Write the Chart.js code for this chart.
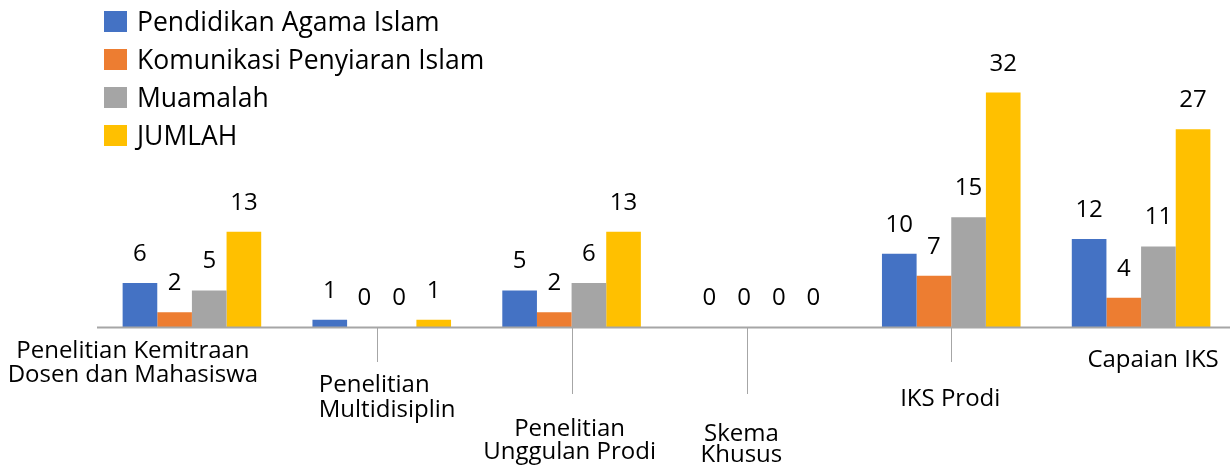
<!DOCTYPE html>
<html lang="id">
<head>
    <meta charset="UTF-8">
    <title>Penelitian per Prodi</title>
    <script src="https://cdn.jsdelivr.net/npm/chart.js"></script>
    <style>
        body { margin: 0; overflow: hidden; background: #ffffff; }
        .chart-container { position: relative; width: 1240px; height: 466px; }
    </style>
</head>
<body>
    <div class="chart-container">
        <canvas id="chartPenelitian"></canvas>
    </div>

    <script>
        // --- Data ---
        const categories = [
            ['Penelitian Kemitraan', 'Dosen dan Mahasiswa'],
            ['Penelitian', 'Multidisiplin'],
            ['Penelitian', 'Unggulan Prodi'],
            ['Skema', 'Khusus'],
            ['IKS Prodi'],
            ['Capaian IKS']
        ];
        const seriesNames = ['Pendidikan Agama Islam', 'Komunikasi Penyiaran Islam', 'Muamalah', 'JUMLAH'];
        const pendidikanAgamaIslam = [6, 1, 5, 0, 10, 12];
        const komunikasiPenyiaranIslam = [2, 0, 2, 0, 7, 4];
        const muamalah = [5, 0, 6, 0, 15, 11];
        const jumlah = [13, 1, 13, 0, 32, 27];

        const colors = ['#4472C4', '#ED7D31', '#A5A5A5', '#FFC000'];
        const FONT = "'Open Sans', 'Noto Sans', sans-serif";

        // Beschriftungs-Layout der x-Achse (versetzt wie im Original, mit Führungslinien)
        const labelDx = [-59, -63, -2, -20, -1, 12];
        const labelAlign = ['center', 'left', 'center', 'center', 'center', 'center'];
        const labelBaseline = [31, 65, 109, 114, 79, 40];   // relativ zur Achse
        const labelLineGap = [24, 25, 23, 21, 0, 0];
        const leaderDx = [null, -5, 0, -14, 0, null];
        const leaderLen = [0, 35, 67, 67, 35, 0];

        // Eigene Beschriftung: Werte, Legende, Achse
        const customDraw = {
            id: 'customDraw',
            afterDatasetsDraw(chart) {
                const ctx = chart.ctx;
                const area = chart.chartArea;
                const xScale = chart.scales.x;
                const axisY = area.bottom;

                ctx.save();
                // Achsenlinie
                ctx.strokeStyle = '#A6A6A6';
                ctx.lineWidth = 2;
                ctx.beginPath();
                ctx.moveTo(area.left, axisY + 0.5);
                ctx.lineTo(area.right, axisY + 0.5);
                ctx.stroke();

                // Datenbeschriftungen
                ctx.fillStyle = '#000000';
                ctx.font = '24px ' + FONT;
                ctx.textAlign = 'center';
                ctx.textBaseline = 'alphabetic';
                chart.data.datasets.forEach((ds, di) => {
                    const meta = chart.getDatasetMeta(di);
                    meta.data.forEach((bar, i) => {
                        ctx.fillText(String(ds.data[i]), bar.x, bar.y - 22);
                    });
                });

                // x-Achse: Kategorien
                ctx.font = '24px ' + FONT;
                categories.forEach((lines, i) => {
                    const cx = xScale.getPixelForValue(i);
                    if (leaderDx[i] !== null && leaderLen[i] > 0) {
                        ctx.strokeStyle = '#A6A6A6';
                        ctx.lineWidth = 1;
                        const lx = Math.round(cx + leaderDx[i]) + 0.5;
                        ctx.beginPath();
                        ctx.moveTo(lx, axisY + 1);
                        ctx.lineTo(lx, axisY + leaderLen[i]);
                        ctx.stroke();
                    }
                    ctx.textAlign = labelAlign[i];
                    lines.forEach((line, li) => {
                        ctx.fillText(line, cx + labelDx[i], axisY + labelBaseline[i] + li * labelLineGap[i]);
                    });
                });

                // Legende (vertikal, oben links)
                ctx.font = '26.5px ' + FONT;
                ctx.textAlign = 'left';
                ctx.textBaseline = 'middle';
                chart.data.datasets.forEach((ds, di) => {
                    const rowY = 22 + di * 38;
                    ctx.fillStyle = ds.backgroundColor;
                    ctx.fillRect(104, rowY - 11, 23, 21);
                    ctx.fillStyle = '#000000';
                    ctx.fillText(ds.label, 137, rowY + 1);
                });
                ctx.restore();
            }
        };

        const seriesValues = [pendidikanAgamaIslam, komunikasiPenyiaranIslam, muamalah, jumlah];

        new Chart(document.getElementById('chartPenelitian'), {
            type: 'bar',
            data: {
                labels: categories,
                datasets: seriesNames.map((name, i) => ({
                    label: name,
                    data: seriesValues[i],
                    backgroundColor: colors[i],
                    borderWidth: 0
                }))
            },
            options: {
                responsive: true,
                maintainAspectRatio: false,
                animation: false,
                layout: { padding: { left: 97, right: 4, top: 34, bottom: 139 } },
                categoryPercentage: 0.73,
                barPercentage: 1.0,
                scales: {
                    x: { display: false },
                    y: { display: false, min: 0, max: 40 }
                },
                plugins: {
                    legend: { display: false },
                    tooltip: { enabled: false }
                }
            },
            plugins: [customDraw]
        });
    </script>
</body>
</html>
